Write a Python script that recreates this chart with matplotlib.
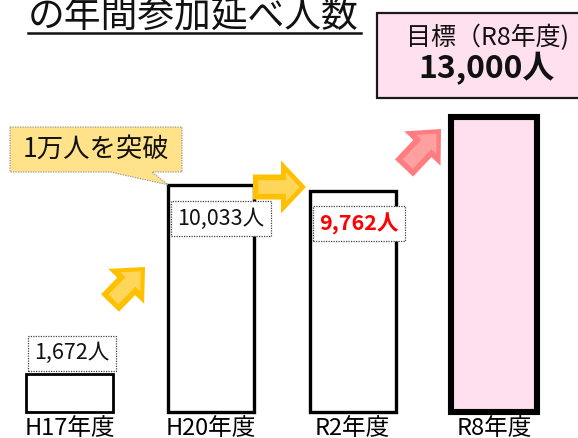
"""Annual participant count chart (H17 -> R8 target), infographic style."""

import matplotlib

matplotlib.use("Agg")
import matplotlib.pyplot as plt
from matplotlib.lines import Line2D
from matplotlib.patches import FancyArrow, Polygon, Rectangle
from matplotlib.transforms import IdentityTransform

plt.rcParams["font.family"] = ["Noto Sans CJK JP", "DejaVu Sans"]

# data
categories = ["H17年度", "H20年度", "R2年度", "R8年度"]
participants = [1672, 10033, 9762, 13000]
value_labels = ["1,672人", "10,033人", "9,762人"]
title = "の年間参加延べ人数"
callout_text = "1万人を突破"
target_title = "目標（R8年度)"
target_value = "13,000人"

W, H = 578, 438
PINK = "#FFE0EE"
YELLOW = "#FFC000"
YELLOW_IN = "#FFD65A"
RED_ARROW = "#FF7C80"
RED_IN = "#FFA0A0"

fig = plt.figure(figsize=(W / 100, H / 100), dpi=100)
ax = fig.add_axes([0, 0, 1, 1])
ax.set_xlim(-0.4917, 3.5917)
ax.set_ylim(-1148, 18186)
ax.axis("off")

x = list(range(len(categories)))
fills = ["white", "white", "white", PINK]
widths = [2.0, 2.4, 2.4, 4.4]
bars = ax.bar(x, participants, width=0.61, color=fills, edgecolor="black",
              linewidth=widths, zorder=2)
for b in bars:
    b.set_joinstyle("miter")

# category labels under the bars
for i, cat in enumerate(categories):
    ax.annotate(cat, xy=(i, 0), xytext=(0, -23), textcoords="offset pixels",
                ha="center", va="baseline", fontsize=17)

# value labels in dotted boxes
label_style = dict(boxstyle="square,pad=0.3", fc="white", ec="#444444",
                   ls=(0, (1, 1)), lw=0.9)
offsets = [(2, 21), (10, -34), (6, -33)]
for i, (lab, (dx, dy)) in enumerate(zip(value_labels, offsets)):
    red = i == 2
    ax.annotate(lab, xy=(i, participants[i]), xytext=(dx, dy),
                textcoords="offset pixels", ha="center", va="center",
                fontsize=15.5, color="#FF0000" if red else "#111111",
                fontweight="bold" if red else "normal",
                bbox=label_style, zorder=5)

# step arrows (pixel coordinates, y measured from top)
ident = IdentityTransform()


def step_arrow(x0, y0, dx, dy, outer, inner, width=25, hw=50, hl=27):
    ax.add_patch(FancyArrow(x0, H - y0, dx, -dy, width=width, head_width=hw,
                            head_length=hl, length_includes_head=True,
                            transform=ident, color=outer, lw=0, zorder=3))
    k = 0.55
    ax.add_patch(FancyArrow(x0 + dx * 0.1, H - y0 - dy * 0.1, dx * 0.78,
                            -dy * 0.78, width=width * k, head_width=hw * k,
                            head_length=hl * k, length_includes_head=True,
                            transform=ident, color=inner, lw=0, zorder=3))


step_arrow(110, 303, 35, -36, YELLOW, YELLOW_IN)
step_arrow(253, 187, 53, 0, YELLOW, YELLOW_IN, width=25, hw=53, hl=25)
step_arrow(404, 168, 37, -39, RED_ARROW, RED_IN)

# callout pointing at the top-left corner of the H20 bar
fig.canvas.draw()
tip = ax.transData.transform((1 - 0.305, participants[1]))
top, bot = H - 127, H - 172
callout = Polygon([(10, top), (182, top), (182, bot), (152, bot),
                   (tip[0], tip[1]), (110, bot), (10, bot)],
                  closed=True, transform=ident, fc="#FFE28A", ec="#9a9a9a",
                  ls=(0, (1, 1)), lw=0.9, zorder=4)
ax.add_patch(callout)
fig.text(96 / W, (top + bot) / 2 / H, callout_text, ha="center",
         va="center", fontsize=19, color="#111111", zorder=6)

# target box
ax.add_patch(Rectangle((377, H - 98), 230, 85, transform=ident, fc=PINK,
                       ec="#1a1a1a", lw=1.6, zorder=4))
fig.text(487 / W, 1 - 38 / H, target_title, ha="center", va="center",
         fontsize=18, color="#111111")
fig.text(487 / W, 1 - 69 / H, target_value, ha="center", va="center",
         fontsize=23, fontweight="bold", color="#111111")

# title (clipped at the top edge) with underline
fig.text(28 / W, 1 - 27 / H, title, ha="left", va="baseline", fontsize=26.5,
         color="#111111")
fig.add_artist(Line2D([28 / W, 361 / W], [1 - 33 / H, 1 - 33 / H],
                      color="#111111", lw=1.8))

fig.savefig("out.png", dpi=100)
